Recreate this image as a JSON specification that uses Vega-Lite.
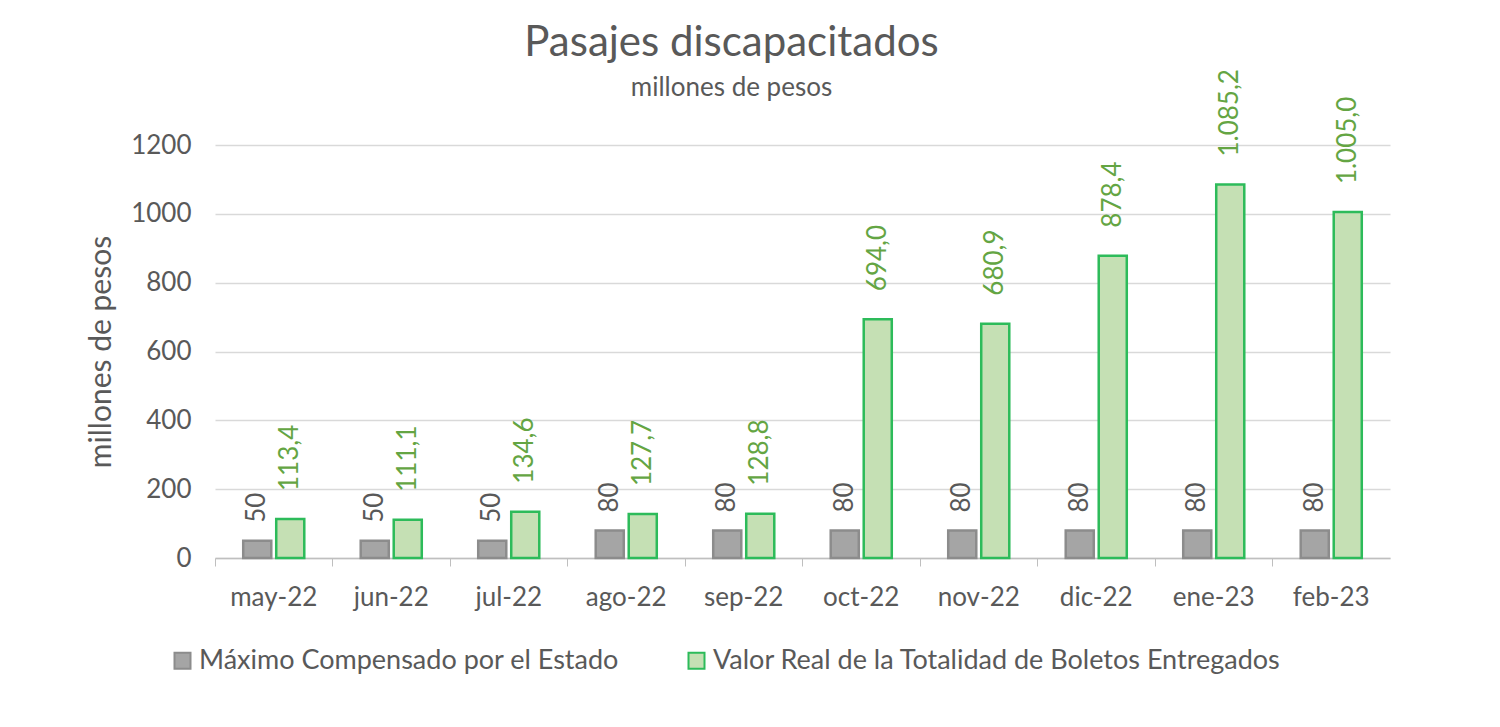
{
  "$schema": "https://vega.github.io/schema/vega-lite/v6.json",
  "width": 1175,
  "height": 413,
  "autosize": "none",
  "padding": {"left": 215, "top": 145, "right": 110, "bottom": 169},
  "background": "white",
  "config": {
    "locale": {"number": {"decimal": ",", "thousands": ".", "grouping": [3], "currency": ["$", ""]}},
    "font": "Lato",
    "view": {"stroke": null}
  },
  "title": {
    "text": "Pasajes discapacitados",
    "subtitle": "millones de pesos",
    "anchor": "middle",
    "frame": "group",
    "dx": -71,
    "fontSize": 42,
    "fontWeight": "normal",
    "color": "#595959",
    "subtitleFontSize": 26,
    "subtitleColor": "#595959",
    "subtitlePadding": 10,
    "offset": -33,
    "font": "Lato",
    "subtitleFont": "Lato"
  },
  "data": {
    "values": [
      {"mes": "may-22", "serie": "Máximo Compensado por el Estado", "valor": 50},
      {"mes": "may-22", "serie": "Valor Real de la Totalidad de Boletos Entregados", "valor": 113.4},
      {"mes": "jun-22", "serie": "Máximo Compensado por el Estado", "valor": 50},
      {"mes": "jun-22", "serie": "Valor Real de la Totalidad de Boletos Entregados", "valor": 111.1},
      {"mes": "jul-22", "serie": "Máximo Compensado por el Estado", "valor": 50},
      {"mes": "jul-22", "serie": "Valor Real de la Totalidad de Boletos Entregados", "valor": 134.6},
      {"mes": "ago-22", "serie": "Máximo Compensado por el Estado", "valor": 80},
      {"mes": "ago-22", "serie": "Valor Real de la Totalidad de Boletos Entregados", "valor": 127.7},
      {"mes": "sep-22", "serie": "Máximo Compensado por el Estado", "valor": 80},
      {"mes": "sep-22", "serie": "Valor Real de la Totalidad de Boletos Entregados", "valor": 128.8},
      {"mes": "oct-22", "serie": "Máximo Compensado por el Estado", "valor": 80},
      {"mes": "oct-22", "serie": "Valor Real de la Totalidad de Boletos Entregados", "valor": 694.0},
      {"mes": "nov-22", "serie": "Máximo Compensado por el Estado", "valor": 80},
      {"mes": "nov-22", "serie": "Valor Real de la Totalidad de Boletos Entregados", "valor": 680.9},
      {"mes": "dic-22", "serie": "Máximo Compensado por el Estado", "valor": 80},
      {"mes": "dic-22", "serie": "Valor Real de la Totalidad de Boletos Entregados", "valor": 878.4},
      {"mes": "ene-23", "serie": "Máximo Compensado por el Estado", "valor": 80},
      {"mes": "ene-23", "serie": "Valor Real de la Totalidad de Boletos Entregados", "valor": 1085.2},
      {"mes": "feb-23", "serie": "Máximo Compensado por el Estado", "valor": 80},
      {"mes": "feb-23", "serie": "Valor Real de la Totalidad de Boletos Entregados", "valor": 1005.0}
    ]
  },
  "encoding": {
    "x": {
      "field": "mes",
      "type": "nominal",
      "sort": null,
      "scale": {"paddingInner": 0, "paddingOuter": 0},
      "axis": {
        "title": null,
        "labelAngle": 0,
        "labelFontSize": 26,
        "labelColor": "#595959",
        "labelPadding": 18,
        "bandPosition": 0,
        "tickSize": 8,
        "tickColor": "#bfbfbf",
        "domainColor": "#bfbfbf",
        "domainWidth": 1.5,
        "grid": false
      }
    },
    "xOffset": {
      "field": "serie",
      "type": "nominal",
      "scale": {"paddingInner": 0.15, "paddingOuter": 0.855}
    },
    "y": {
      "field": "valor",
      "type": "quantitative",
      "scale": {"domain": [0, 1200], "nice": false},
      "axis": {
        "title": "millones de pesos",
        "titleFontSize": 30,
        "titleFontWeight": "normal",
        "titleColor": "#595959",
        "titlePadding": 14,
        "values": [0, 200, 400, 600, 800, 1000, 1200],
        "format": "d",
        "labelFontSize": 26,
        "labelColor": "#595959",
        "labelPadding": 24,
        "ticks": false,
        "domain": false,
        "gridColor": "#d9d9d9",
        "gridWidth": 1.5
      }
    }
  },
  "layer": [
    {
      "mark": {"type": "bar", "strokeWidth": 2.5},
      "encoding": {
        "fill": {
          "field": "serie",
          "type": "nominal",
          "scale": {
            "domain": ["Máximo Compensado por el Estado", "Valor Real de la Totalidad de Boletos Entregados"],
            "range": ["#a5a5a5", "#c5e0b4"]
          },
          "legend": {
            "title": null,
            "orient": "none",
            "legendX": -46,
            "legendY": 502,
            "direction": "horizontal",
            "symbolType": "square",
            "symbolSize": 256,
            "symbolStrokeWidth": 2,
            "labelFontSize": 27,
            "labelColor": "#595959",
            "labelLimit": 700,
            "columnPadding": 64,
            "symbolOffset": 0,
            "labelOffset": 3
          }
        },
        "stroke": {
          "field": "serie",
          "type": "nominal",
          "scale": {
            "domain": ["Máximo Compensado por el Estado", "Valor Real de la Totalidad de Boletos Entregados"],
            "range": ["#8c8c8c", "#2dbb5a"]
          },
          "legend": {
            "title": null,
            "orient": "none",
            "legendX": -46,
            "legendY": 502,
            "direction": "horizontal",
            "symbolType": "square",
            "symbolSize": 256,
            "symbolStrokeWidth": 2,
            "labelFontSize": 27,
            "labelColor": "#595959",
            "labelLimit": 700,
            "columnPadding": 64,
            "symbolOffset": 0,
            "labelOffset": 3
          }
        }
      }
    },
    {
      "transform": [{"filter": "datum.serie === 'Máximo Compensado por el Estado'"}],
      "mark": {"type": "text", "angle": 270, "align": "left", "baseline": "middle", "dx": 18, "fontSize": 26, "color": "#595959"},
      "encoding": {
        "text": {"field": "valor", "type": "quantitative", "format": "d"}
      }
    },
    {
      "transform": [{"filter": "datum.serie === 'Valor Real de la Totalidad de Boletos Entregados'"}],
      "mark": {"type": "text", "angle": 270, "align": "left", "baseline": "middle", "dx": 28, "fontSize": 26, "color": "#64a543"},
      "encoding": {
        "text": {"field": "valor", "type": "quantitative", "format": ",.1f"}
      }
    }
  ]
}
